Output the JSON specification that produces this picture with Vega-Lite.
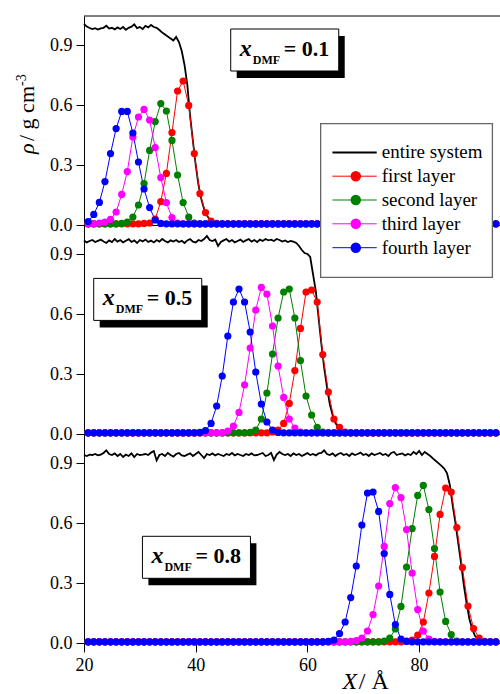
{
  "$schema": "https://vega.github.io/schema/vega-lite/v6.json",
  "background": "white",
  "padding": {"left": 14, "top": 15, "right": 0, "bottom": 0},
  "spacing": 0,
  "bounds": "flush",
  "config": {
    "font": "'Liberation Serif', 'Times New Roman', Times, 'DejaVu Serif', serif",
    "view": {"stroke": null},
    "axis": {"grid": false, "domainColor": "#000", "domainWidth": 1, "tickColor": "#000", "tickWidth": 1, "labelColor": "#000", "labelFont": "'Liberation Serif', 'Times New Roman', Times, 'DejaVu Serif', serif", "labelFontSize": 18}
  },
  "datasets": {
    "total01": [
      {"x":20,"y":1.005},{"x":20.5,"y":0.992},{"x":21,"y":0.985},{"x":21.5,"y":0.98},{"x":22,"y":0.984},{"x":22.5,"y":0.977},{"x":23,"y":0.983},{"x":23.5,"y":0.986},{"x":24,"y":0.996},{"x":24.5,"y":0.982},{"x":25,"y":0.986},{"x":25.5,"y":0.978},{"x":26,"y":0.988},{"x":26.5,"y":0.98},{"x":27,"y":0.99},{"x":27.5,"y":0.976},{"x":28,"y":0.986},{"x":28.5,"y":0.992},{"x":29,"y":1.003},{"x":29.5,"y":0.984},{"x":30,"y":0.99},{"x":30.5,"y":0.98},{"x":31,"y":0.996},{"x":31.5,"y":0.988},{"x":32,"y":1.0},{"x":32.5,"y":0.99},{"x":33,"y":0.986},{"x":33.5,"y":0.975},{"x":34,"y":0.962},{"x":34.5,"y":0.952},{"x":35,"y":0.942},{"x":35.5,"y":0.932},{"x":36,"y":0.922},{"x":36.5,"y":0.94},{"x":37,"y":0.915},{"x":37.5,"y":0.87},{"x":38,"y":0.8},{"x":38.5,"y":0.7},{"x":39,"y":0.545},{"x":39.5,"y":0.42},{"x":40,"y":0.3},{"x":40.5,"y":0.2},{"x":41,"y":0.13},{"x":41.5,"y":0.08},{"x":42,"y":0.048},{"x":42.5,"y":0.028},{"x":43,"y":0.016},{"x":43.5,"y":0.01},{"x":44,"y":0.007},{"x":45,"y":0.006},{"x":93.75,"y":0.006}
    ],
    "total05": [
      {"x":20,"y":0.968},{"x":20.5,"y":0.958},{"x":21,"y":0.965},{"x":21.5,"y":0.97},{"x":22,"y":0.96},{"x":22.5,"y":0.966},{"x":23,"y":0.972},{"x":23.5,"y":0.962},{"x":24,"y":0.955},{"x":24.5,"y":0.968},{"x":25,"y":0.96},{"x":25.5,"y":0.975},{"x":26,"y":0.962},{"x":26.5,"y":0.97},{"x":27,"y":0.958},{"x":27.5,"y":0.966},{"x":28,"y":0.974},{"x":28.5,"y":0.96},{"x":29,"y":0.968},{"x":29.5,"y":0.955},{"x":30,"y":0.97},{"x":30.5,"y":0.963},{"x":31,"y":0.972},{"x":31.5,"y":0.96},{"x":32,"y":0.967},{"x":32.5,"y":0.958},{"x":33,"y":0.97},{"x":33.5,"y":0.962},{"x":34,"y":0.975},{"x":34.5,"y":0.965},{"x":35,"y":0.958},{"x":35.5,"y":0.968},{"x":36,"y":0.962},{"x":36.5,"y":0.97},{"x":37,"y":0.96},{"x":37.5,"y":0.966},{"x":38,"y":0.955},{"x":38.5,"y":0.968},{"x":39,"y":0.975},{"x":39.5,"y":0.962},{"x":40,"y":0.958},{"x":40.5,"y":0.97},{"x":41,"y":0.965},{"x":41.5,"y":0.975},{"x":42,"y":0.99},{"x":42.5,"y":0.97},{"x":43,"y":0.965},{"x":43.5,"y":0.972},{"x":44,"y":0.94},{"x":44.5,"y":0.96},{"x":45,"y":0.968},{"x":45.5,"y":0.975},{"x":46,"y":0.962},{"x":46.5,"y":0.97},{"x":47,"y":0.958},{"x":47.5,"y":0.965},{"x":48,"y":0.972},{"x":48.5,"y":0.96},{"x":49,"y":0.968},{"x":49.5,"y":0.975},{"x":50,"y":0.962},{"x":50.5,"y":0.97},{"x":51,"y":0.96},{"x":51.5,"y":0.972},{"x":52,"y":0.965},{"x":52.5,"y":0.975},{"x":53,"y":0.968},{"x":53.5,"y":0.972},{"x":54,"y":0.965},{"x":54.5,"y":0.975},{"x":55,"y":0.97},{"x":55.5,"y":0.962},{"x":56,"y":0.968},{"x":56.5,"y":0.96},{"x":57,"y":0.965},{"x":57.5,"y":0.962},{"x":58,"y":0.955},{"x":58.5,"y":0.94},{"x":59,"y":0.92},{"x":59.5,"y":0.905},{"x":60,"y":0.9},{"x":60.5,"y":0.885},{"x":61,"y":0.8},{"x":61.5,"y":0.715},{"x":62,"y":0.58},{"x":62.5,"y":0.45},{"x":63,"y":0.33},{"x":63.5,"y":0.235},{"x":64,"y":0.15},{"x":64.5,"y":0.095},{"x":65,"y":0.056},{"x":65.5,"y":0.034},{"x":66,"y":0.02},{"x":66.5,"y":0.012},{"x":67,"y":0.008},{"x":68,"y":0.006},{"x":93.75,"y":0.006}
    ],
    "total08": [
      {"x":20,"y":0.94},{"x":20.5,"y":0.935},{"x":21,"y":0.942},{"x":21.5,"y":0.94},{"x":22,"y":0.945},{"x":22.5,"y":0.938},{"x":23,"y":0.942},{"x":23.5,"y":0.95},{"x":24,"y":0.963},{"x":24.5,"y":0.945},{"x":25,"y":0.94},{"x":25.5,"y":0.948},{"x":26,"y":0.935},{"x":26.5,"y":0.945},{"x":27,"y":0.93},{"x":27.5,"y":0.942},{"x":28,"y":0.935},{"x":28.5,"y":0.948},{"x":29,"y":0.93},{"x":29.5,"y":0.945},{"x":30,"y":0.94},{"x":30.5,"y":0.942},{"x":31,"y":0.945},{"x":31.5,"y":0.94},{"x":32,"y":0.952},{"x":32.5,"y":0.96},{"x":33,"y":0.913},{"x":33.5,"y":0.94},{"x":34,"y":0.945},{"x":34.5,"y":0.935},{"x":35,"y":0.95},{"x":35.5,"y":0.94},{"x":36,"y":0.932},{"x":36.5,"y":0.945},{"x":37,"y":0.95},{"x":37.5,"y":0.938},{"x":38,"y":0.935},{"x":38.5,"y":0.942},{"x":39,"y":0.948},{"x":39.5,"y":0.935},{"x":40,"y":0.945},{"x":40.5,"y":0.955},{"x":41,"y":0.94},{"x":41.5,"y":0.925},{"x":42,"y":0.945},{"x":42.5,"y":0.94},{"x":43,"y":0.948},{"x":43.5,"y":0.938},{"x":44,"y":0.945},{"x":44.5,"y":0.94},{"x":45,"y":0.935},{"x":45.5,"y":0.945},{"x":46,"y":0.94},{"x":46.5,"y":0.95},{"x":47,"y":0.938},{"x":47.5,"y":0.945},{"x":48,"y":0.94},{"x":48.5,"y":0.935},{"x":49,"y":0.945},{"x":49.5,"y":0.94},{"x":50,"y":0.948},{"x":50.5,"y":0.938},{"x":51,"y":0.94},{"x":51.5,"y":0.945},{"x":52,"y":0.95},{"x":52.5,"y":0.935},{"x":53,"y":0.94},{"x":53.5,"y":0.95},{"x":54,"y":0.915},{"x":54.5,"y":0.942},{"x":55,"y":0.955},{"x":55.5,"y":0.945},{"x":56,"y":0.94},{"x":56.5,"y":0.945},{"x":57,"y":0.935},{"x":57.5,"y":0.948},{"x":58,"y":0.94},{"x":58.5,"y":0.945},{"x":59,"y":0.935},{"x":59.5,"y":0.942},{"x":60,"y":0.95},{"x":60.5,"y":0.94},{"x":61,"y":0.945},{"x":61.5,"y":0.938},{"x":62,"y":0.948},{"x":62.5,"y":0.95},{"x":63,"y":0.963},{"x":63.5,"y":0.945},{"x":64,"y":0.94},{"x":64.5,"y":0.948},{"x":65,"y":0.935},{"x":65.5,"y":0.945},{"x":66,"y":0.95},{"x":66.5,"y":0.94},{"x":67,"y":0.945},{"x":67.5,"y":0.935},{"x":68,"y":0.948},{"x":68.5,"y":0.94},{"x":69,"y":0.945},{"x":69.5,"y":0.952},{"x":70,"y":0.94},{"x":70.5,"y":0.945},{"x":71,"y":0.935},{"x":71.5,"y":0.948},{"x":72,"y":0.94},{"x":72.5,"y":0.945},{"x":73,"y":0.95},{"x":73.5,"y":0.94},{"x":74,"y":0.945},{"x":74.5,"y":0.935},{"x":75,"y":0.95},{"x":75.5,"y":0.955},{"x":76,"y":0.94},{"x":76.5,"y":0.945},{"x":77,"y":0.948},{"x":77.5,"y":0.938},{"x":78,"y":0.945},{"x":78.5,"y":0.94},{"x":79,"y":0.955},{"x":79.5,"y":0.945},{"x":80,"y":0.96},{"x":80.5,"y":0.94},{"x":81,"y":0.955},{"x":81.5,"y":0.945},{"x":82,"y":0.935},{"x":82.5,"y":0.922},{"x":83,"y":0.91},{"x":83.5,"y":0.898},{"x":84,"y":0.886},{"x":84.5,"y":0.872},{"x":85,"y":0.848},{"x":85.5,"y":0.79},{"x":86,"y":0.69},{"x":86.5,"y":0.6},{"x":87,"y":0.5},{"x":87.5,"y":0.4},{"x":88,"y":0.29},{"x":88.5,"y":0.2},{"x":89,"y":0.12},{"x":89.5,"y":0.07},{"x":90,"y":0.036},{"x":90.5,"y":0.018},{"x":91,"y":0.01},{"x":92,"y":0.006},{"x":93.75,"y":0.006}
    ],
    "layers01": [
      {"s":1,"x":20.75,"y":0.006},{"s":1,"x":21.75,"y":0.006},{"s":1,"x":22.75,"y":0.006},{"s":1,"x":23.75,"y":0.006},{"s":1,"x":24.75,"y":0.006},{"s":1,"x":25.75,"y":0.006},{"s":1,"x":26.75,"y":0.006},{"s":1,"x":27.75,"y":0.006},{"s":1,"x":28.75,"y":0.006},{"s":1,"x":29.75,"y":0.006},{"s":1,"x":30.75,"y":0.008},{"s":1,"x":31.75,"y":0.01},{"s":1,"x":32.75,"y":0.03},{"s":1,"x":33.75,"y":0.117},{"s":1,"x":34.75,"y":0.258},{"s":1,"x":35.75,"y":0.462},{"s":1,"x":36.75,"y":0.67},{"s":1,"x":37.75,"y":0.72},{"s":1,"x":38.75,"y":0.598},{"s":1,"x":39.75,"y":0.357},{"s":1,"x":40.75,"y":0.157},{"s":1,"x":41.75,"y":0.062},{"s":1,"x":42.75,"y":0.02},{"s":1,"x":43.75,"y":0.008},{"s":1,"x":44.75,"y":0.006},{"s":1,"x":45.75,"y":0.006},{"s":1,"x":46.75,"y":0.006},{"s":1,"x":47.75,"y":0.006},{"s":1,"x":48.75,"y":0.006},{"s":1,"x":49.75,"y":0.006},{"s":1,"x":50.75,"y":0.006},{"s":1,"x":51.75,"y":0.006},{"s":1,"x":52.75,"y":0.006},{"s":1,"x":53.75,"y":0.006},{"s":1,"x":54.75,"y":0.006},{"s":1,"x":55.75,"y":0.006},{"s":1,"x":56.75,"y":0.006},{"s":1,"x":57.75,"y":0.006},{"s":1,"x":58.75,"y":0.006},{"s":1,"x":59.75,"y":0.006},{"s":1,"x":60.75,"y":0.006},{"s":1,"x":61.75,"y":0.006},{"s":1,"x":62.75,"y":0.006},{"s":1,"x":63.75,"y":0.006},{"s":1,"x":64.75,"y":0.006},{"s":1,"x":65.75,"y":0.006},{"s":1,"x":66.75,"y":0.006},{"s":1,"x":67.75,"y":0.006},{"s":1,"x":68.75,"y":0.006},{"s":1,"x":69.75,"y":0.006},{"s":1,"x":70.75,"y":0.006},{"s":1,"x":71.75,"y":0.006},{"s":1,"x":72.75,"y":0.006},{"s":1,"x":73.75,"y":0.006},{"s":1,"x":74.75,"y":0.006},{"s":1,"x":75.75,"y":0.006},{"s":1,"x":76.75,"y":0.006},{"s":1,"x":77.75,"y":0.006},{"s":1,"x":78.75,"y":0.006},{"s":1,"x":79.75,"y":0.006},{"s":1,"x":80.75,"y":0.006},{"s":1,"x":81.75,"y":0.006},{"s":1,"x":82.75,"y":0.006},{"s":1,"x":83.75,"y":0.006},{"s":1,"x":84.75,"y":0.006},{"s":1,"x":85.75,"y":0.006},{"s":1,"x":86.75,"y":0.006},{"s":1,"x":87.75,"y":0.006},{"s":1,"x":88.75,"y":0.006},{"s":1,"x":89.75,"y":0.006},{"s":1,"x":90.75,"y":0.006},{"s":1,"x":91.75,"y":0.006},{"s":1,"x":92.75,"y":0.006},{"s":1,"x":93.75,"y":0.006},
      {"s":2,"x":20.75,"y":0.006},{"s":2,"x":21.75,"y":0.006},{"s":2,"x":22.75,"y":0.006},{"s":2,"x":23.75,"y":0.006},{"s":2,"x":24.75,"y":0.006},{"s":2,"x":25.75,"y":0.006},{"s":2,"x":26.75,"y":0.008},{"s":2,"x":27.75,"y":0.015},{"s":2,"x":28.75,"y":0.04},{"s":2,"x":29.75,"y":0.1},{"s":2,"x":30.75,"y":0.207},{"s":2,"x":31.75,"y":0.373},{"s":2,"x":32.75,"y":0.517},{"s":2,"x":33.75,"y":0.607},{"s":2,"x":34.75,"y":0.57},{"s":2,"x":35.75,"y":0.423},{"s":2,"x":36.75,"y":0.25},{"s":2,"x":37.75,"y":0.112},{"s":2,"x":38.75,"y":0.04},{"s":2,"x":39.75,"y":0.01},{"s":2,"x":40.75,"y":0.006},{"s":2,"x":41.75,"y":0.006},{"s":2,"x":42.75,"y":0.006},{"s":2,"x":43.75,"y":0.006},{"s":2,"x":44.75,"y":0.006},{"s":2,"x":45.75,"y":0.006},{"s":2,"x":46.75,"y":0.006},{"s":2,"x":47.75,"y":0.006},{"s":2,"x":48.75,"y":0.006},{"s":2,"x":49.75,"y":0.006},{"s":2,"x":50.75,"y":0.006},{"s":2,"x":51.75,"y":0.006},{"s":2,"x":52.75,"y":0.006},{"s":2,"x":53.75,"y":0.006},{"s":2,"x":54.75,"y":0.006},{"s":2,"x":55.75,"y":0.006},{"s":2,"x":56.75,"y":0.006},{"s":2,"x":57.75,"y":0.006},{"s":2,"x":58.75,"y":0.006},{"s":2,"x":59.75,"y":0.006},{"s":2,"x":60.75,"y":0.006},{"s":2,"x":61.75,"y":0.006},{"s":2,"x":62.75,"y":0.006},{"s":2,"x":63.75,"y":0.006},{"s":2,"x":64.75,"y":0.006},{"s":2,"x":65.75,"y":0.006},{"s":2,"x":66.75,"y":0.006},{"s":2,"x":67.75,"y":0.006},{"s":2,"x":68.75,"y":0.006},{"s":2,"x":69.75,"y":0.006},{"s":2,"x":70.75,"y":0.006},{"s":2,"x":71.75,"y":0.006},{"s":2,"x":72.75,"y":0.006},{"s":2,"x":73.75,"y":0.006},{"s":2,"x":74.75,"y":0.006},{"s":2,"x":75.75,"y":0.006},{"s":2,"x":76.75,"y":0.006},{"s":2,"x":77.75,"y":0.006},{"s":2,"x":78.75,"y":0.006},{"s":2,"x":79.75,"y":0.006},{"s":2,"x":80.75,"y":0.006},{"s":2,"x":81.75,"y":0.006},{"s":2,"x":82.75,"y":0.006},{"s":2,"x":83.75,"y":0.006},{"s":2,"x":84.75,"y":0.006},{"s":2,"x":85.75,"y":0.006},{"s":2,"x":86.75,"y":0.006},{"s":2,"x":87.75,"y":0.006},{"s":2,"x":88.75,"y":0.006},{"s":2,"x":89.75,"y":0.006},{"s":2,"x":90.75,"y":0.006},{"s":2,"x":91.75,"y":0.006},{"s":2,"x":92.75,"y":0.006},{"s":2,"x":93.75,"y":0.006},
      {"s":3,"x":20.75,"y":0.006},{"s":3,"x":21.75,"y":0.006},{"s":3,"x":22.75,"y":0.01},{"s":3,"x":23.75,"y":0.015},{"s":3,"x":24.75,"y":0.028},{"s":3,"x":25.75,"y":0.065},{"s":3,"x":26.75,"y":0.153},{"s":3,"x":27.75,"y":0.267},{"s":3,"x":28.75,"y":0.44},{"s":3,"x":29.75,"y":0.54},{"s":3,"x":30.75,"y":0.578},{"s":3,"x":31.75,"y":0.525},{"s":3,"x":32.75,"y":0.387},{"s":3,"x":33.75,"y":0.237},{"s":3,"x":34.75,"y":0.112},{"s":3,"x":35.75,"y":0.037},{"s":3,"x":36.75,"y":0.01},{"s":3,"x":37.75,"y":0.006},{"s":3,"x":38.75,"y":0.006},{"s":3,"x":39.75,"y":0.006},{"s":3,"x":40.75,"y":0.006},{"s":3,"x":41.75,"y":0.006},{"s":3,"x":42.75,"y":0.006},{"s":3,"x":43.75,"y":0.006},{"s":3,"x":44.75,"y":0.006},{"s":3,"x":45.75,"y":0.006},{"s":3,"x":46.75,"y":0.006},{"s":3,"x":47.75,"y":0.006},{"s":3,"x":48.75,"y":0.006},{"s":3,"x":49.75,"y":0.006},{"s":3,"x":50.75,"y":0.006},{"s":3,"x":51.75,"y":0.006},{"s":3,"x":52.75,"y":0.006},{"s":3,"x":53.75,"y":0.006},{"s":3,"x":54.75,"y":0.006},{"s":3,"x":55.75,"y":0.006},{"s":3,"x":56.75,"y":0.006},{"s":3,"x":57.75,"y":0.006},{"s":3,"x":58.75,"y":0.006},{"s":3,"x":59.75,"y":0.006},{"s":3,"x":60.75,"y":0.006},{"s":3,"x":61.75,"y":0.006},{"s":3,"x":62.75,"y":0.006},{"s":3,"x":63.75,"y":0.006},{"s":3,"x":64.75,"y":0.006},{"s":3,"x":65.75,"y":0.006},{"s":3,"x":66.75,"y":0.006},{"s":3,"x":67.75,"y":0.006},{"s":3,"x":68.75,"y":0.006},{"s":3,"x":69.75,"y":0.006},{"s":3,"x":70.75,"y":0.006},{"s":3,"x":71.75,"y":0.006},{"s":3,"x":72.75,"y":0.006},{"s":3,"x":73.75,"y":0.006},{"s":3,"x":74.75,"y":0.006},{"s":3,"x":75.75,"y":0.006},{"s":3,"x":76.75,"y":0.006},{"s":3,"x":77.75,"y":0.006},{"s":3,"x":78.75,"y":0.006},{"s":3,"x":79.75,"y":0.006},{"s":3,"x":80.75,"y":0.006},{"s":3,"x":81.75,"y":0.006},{"s":3,"x":82.75,"y":0.006},{"s":3,"x":83.75,"y":0.006},{"s":3,"x":84.75,"y":0.006},{"s":3,"x":85.75,"y":0.006},{"s":3,"x":86.75,"y":0.006},{"s":3,"x":87.75,"y":0.006},{"s":3,"x":88.75,"y":0.006},{"s":3,"x":89.75,"y":0.006},{"s":3,"x":90.75,"y":0.006},{"s":3,"x":91.75,"y":0.006},{"s":3,"x":92.75,"y":0.006},{"s":3,"x":93.75,"y":0.006},
      {"s":4,"x":20.75,"y":0.017},{"s":4,"x":21.75,"y":0.053},{"s":4,"x":22.75,"y":0.113},{"s":4,"x":23.75,"y":0.217},{"s":4,"x":24.75,"y":0.357},{"s":4,"x":25.75,"y":0.482},{"s":4,"x":26.75,"y":0.568},{"s":4,"x":27.75,"y":0.568},{"s":4,"x":28.75,"y":0.46},{"s":4,"x":29.75,"y":0.315},{"s":4,"x":30.75,"y":0.18},{"s":4,"x":31.75,"y":0.087},{"s":4,"x":32.75,"y":0.025},{"s":4,"x":33.75,"y":0.008},{"s":4,"x":34.75,"y":0.006},{"s":4,"x":35.75,"y":0.006},{"s":4,"x":36.75,"y":0.006},{"s":4,"x":37.75,"y":0.006},{"s":4,"x":38.75,"y":0.006},{"s":4,"x":39.75,"y":0.006},{"s":4,"x":40.75,"y":0.006},{"s":4,"x":41.75,"y":0.006},{"s":4,"x":42.75,"y":0.006},{"s":4,"x":43.75,"y":0.006},{"s":4,"x":44.75,"y":0.006},{"s":4,"x":45.75,"y":0.006},{"s":4,"x":46.75,"y":0.006},{"s":4,"x":47.75,"y":0.006},{"s":4,"x":48.75,"y":0.006},{"s":4,"x":49.75,"y":0.006},{"s":4,"x":50.75,"y":0.006},{"s":4,"x":51.75,"y":0.006},{"s":4,"x":52.75,"y":0.006},{"s":4,"x":53.75,"y":0.006},{"s":4,"x":54.75,"y":0.006},{"s":4,"x":55.75,"y":0.006},{"s":4,"x":56.75,"y":0.006},{"s":4,"x":57.75,"y":0.006},{"s":4,"x":58.75,"y":0.006},{"s":4,"x":59.75,"y":0.006},{"s":4,"x":60.75,"y":0.006},{"s":4,"x":61.75,"y":0.006},{"s":4,"x":62.75,"y":0.006},{"s":4,"x":63.75,"y":0.006},{"s":4,"x":64.75,"y":0.006},{"s":4,"x":65.75,"y":0.006},{"s":4,"x":66.75,"y":0.006},{"s":4,"x":67.75,"y":0.006},{"s":4,"x":68.75,"y":0.006},{"s":4,"x":69.75,"y":0.006},{"s":4,"x":70.75,"y":0.006},{"s":4,"x":71.75,"y":0.006},{"s":4,"x":72.75,"y":0.006},{"s":4,"x":73.75,"y":0.006},{"s":4,"x":74.75,"y":0.006},{"s":4,"x":75.75,"y":0.006},{"s":4,"x":76.75,"y":0.006},{"s":4,"x":77.75,"y":0.006},{"s":4,"x":78.75,"y":0.006},{"s":4,"x":79.75,"y":0.006},{"s":4,"x":80.75,"y":0.006},{"s":4,"x":81.75,"y":0.006},{"s":4,"x":82.75,"y":0.006},{"s":4,"x":83.75,"y":0.006},{"s":4,"x":84.75,"y":0.006},{"s":4,"x":85.75,"y":0.006},{"s":4,"x":86.75,"y":0.006},{"s":4,"x":87.75,"y":0.006},{"s":4,"x":88.75,"y":0.006},{"s":4,"x":89.75,"y":0.006},{"s":4,"x":90.75,"y":0.006},{"s":4,"x":91.75,"y":0.006},{"s":4,"x":92.75,"y":0.006},{"s":4,"x":93.75,"y":0.006}
    ],
    "layers05": [
      {"s":1,"x":20.75,"y":0.006},{"s":1,"x":21.75,"y":0.006},{"s":1,"x":22.75,"y":0.006},{"s":1,"x":23.75,"y":0.006},{"s":1,"x":24.75,"y":0.006},{"s":1,"x":25.75,"y":0.006},{"s":1,"x":26.75,"y":0.006},{"s":1,"x":27.75,"y":0.006},{"s":1,"x":28.75,"y":0.006},{"s":1,"x":29.75,"y":0.006},{"s":1,"x":30.75,"y":0.006},{"s":1,"x":31.75,"y":0.006},{"s":1,"x":32.75,"y":0.006},{"s":1,"x":33.75,"y":0.006},{"s":1,"x":34.75,"y":0.006},{"s":1,"x":35.75,"y":0.006},{"s":1,"x":36.75,"y":0.006},{"s":1,"x":37.75,"y":0.006},{"s":1,"x":38.75,"y":0.006},{"s":1,"x":39.75,"y":0.006},{"s":1,"x":40.75,"y":0.006},{"s":1,"x":41.75,"y":0.006},{"s":1,"x":42.75,"y":0.006},{"s":1,"x":43.75,"y":0.006},{"s":1,"x":44.75,"y":0.006},{"s":1,"x":45.75,"y":0.006},{"s":1,"x":46.75,"y":0.006},{"s":1,"x":47.75,"y":0.006},{"s":1,"x":48.75,"y":0.006},{"s":1,"x":49.75,"y":0.006},{"s":1,"x":50.75,"y":0.006},{"s":1,"x":51.75,"y":0.006},{"s":1,"x":52.75,"y":0.006},{"s":1,"x":53.75,"y":0.01},{"s":1,"x":54.75,"y":0.02},{"s":1,"x":55.75,"y":0.053},{"s":1,"x":56.75,"y":0.153},{"s":1,"x":57.75,"y":0.317},{"s":1,"x":58.75,"y":0.528},{"s":1,"x":59.75,"y":0.71},{"s":1,"x":60.75,"y":0.72},{"s":1,"x":61.75,"y":0.66},{"s":1,"x":62.75,"y":0.397},{"s":1,"x":63.75,"y":0.21},{"s":1,"x":64.75,"y":0.075},{"s":1,"x":65.75,"y":0.033},{"s":1,"x":66.75,"y":0.01},{"s":1,"x":67.75,"y":0.006},{"s":1,"x":68.75,"y":0.006},{"s":1,"x":69.75,"y":0.006},{"s":1,"x":70.75,"y":0.006},{"s":1,"x":71.75,"y":0.006},{"s":1,"x":72.75,"y":0.006},{"s":1,"x":73.75,"y":0.006},{"s":1,"x":74.75,"y":0.006},{"s":1,"x":75.75,"y":0.006},{"s":1,"x":76.75,"y":0.006},{"s":1,"x":77.75,"y":0.006},{"s":1,"x":78.75,"y":0.006},{"s":1,"x":79.75,"y":0.006},{"s":1,"x":80.75,"y":0.006},{"s":1,"x":81.75,"y":0.006},{"s":1,"x":82.75,"y":0.006},{"s":1,"x":83.75,"y":0.006},{"s":1,"x":84.75,"y":0.006},{"s":1,"x":85.75,"y":0.006},{"s":1,"x":86.75,"y":0.006},{"s":1,"x":87.75,"y":0.006},{"s":1,"x":88.75,"y":0.006},{"s":1,"x":89.75,"y":0.006},{"s":1,"x":90.75,"y":0.006},{"s":1,"x":91.75,"y":0.006},{"s":1,"x":92.75,"y":0.006},{"s":1,"x":93.75,"y":0.006},
      {"s":2,"x":20.75,"y":0.006},{"s":2,"x":21.75,"y":0.006},{"s":2,"x":22.75,"y":0.006},{"s":2,"x":23.75,"y":0.006},{"s":2,"x":24.75,"y":0.006},{"s":2,"x":25.75,"y":0.006},{"s":2,"x":26.75,"y":0.006},{"s":2,"x":27.75,"y":0.006},{"s":2,"x":28.75,"y":0.006},{"s":2,"x":29.75,"y":0.006},{"s":2,"x":30.75,"y":0.006},{"s":2,"x":31.75,"y":0.006},{"s":2,"x":32.75,"y":0.006},{"s":2,"x":33.75,"y":0.006},{"s":2,"x":34.75,"y":0.006},{"s":2,"x":35.75,"y":0.006},{"s":2,"x":36.75,"y":0.006},{"s":2,"x":37.75,"y":0.006},{"s":2,"x":38.75,"y":0.006},{"s":2,"x":39.75,"y":0.006},{"s":2,"x":40.75,"y":0.006},{"s":2,"x":41.75,"y":0.006},{"s":2,"x":42.75,"y":0.006},{"s":2,"x":43.75,"y":0.006},{"s":2,"x":44.75,"y":0.006},{"s":2,"x":45.75,"y":0.006},{"s":2,"x":46.75,"y":0.006},{"s":2,"x":47.75,"y":0.006},{"s":2,"x":48.75,"y":0.006},{"s":2,"x":49.75,"y":0.008},{"s":2,"x":50.75,"y":0.02},{"s":2,"x":51.75,"y":0.075},{"s":2,"x":52.75,"y":0.205},{"s":2,"x":53.75,"y":0.4},{"s":2,"x":54.75,"y":0.58},{"s":2,"x":55.75,"y":0.71},{"s":2,"x":56.75,"y":0.725},{"s":2,"x":57.75,"y":0.58},{"s":2,"x":58.75,"y":0.367},{"s":2,"x":59.75,"y":0.19},{"s":2,"x":60.75,"y":0.095},{"s":2,"x":61.75,"y":0.033},{"s":2,"x":62.75,"y":0.01},{"s":2,"x":63.75,"y":0.006},{"s":2,"x":64.75,"y":0.006},{"s":2,"x":65.75,"y":0.006},{"s":2,"x":66.75,"y":0.006},{"s":2,"x":67.75,"y":0.006},{"s":2,"x":68.75,"y":0.006},{"s":2,"x":69.75,"y":0.006},{"s":2,"x":70.75,"y":0.006},{"s":2,"x":71.75,"y":0.006},{"s":2,"x":72.75,"y":0.006},{"s":2,"x":73.75,"y":0.006},{"s":2,"x":74.75,"y":0.006},{"s":2,"x":75.75,"y":0.006},{"s":2,"x":76.75,"y":0.006},{"s":2,"x":77.75,"y":0.006},{"s":2,"x":78.75,"y":0.006},{"s":2,"x":79.75,"y":0.006},{"s":2,"x":80.75,"y":0.006},{"s":2,"x":81.75,"y":0.006},{"s":2,"x":82.75,"y":0.006},{"s":2,"x":83.75,"y":0.006},{"s":2,"x":84.75,"y":0.006},{"s":2,"x":85.75,"y":0.006},{"s":2,"x":86.75,"y":0.006},{"s":2,"x":87.75,"y":0.006},{"s":2,"x":88.75,"y":0.006},{"s":2,"x":89.75,"y":0.006},{"s":2,"x":90.75,"y":0.006},{"s":2,"x":91.75,"y":0.006},{"s":2,"x":92.75,"y":0.006},{"s":2,"x":93.75,"y":0.006},
      {"s":3,"x":20.75,"y":0.006},{"s":3,"x":21.75,"y":0.006},{"s":3,"x":22.75,"y":0.006},{"s":3,"x":23.75,"y":0.006},{"s":3,"x":24.75,"y":0.006},{"s":3,"x":25.75,"y":0.006},{"s":3,"x":26.75,"y":0.006},{"s":3,"x":27.75,"y":0.006},{"s":3,"x":28.75,"y":0.006},{"s":3,"x":29.75,"y":0.006},{"s":3,"x":30.75,"y":0.006},{"s":3,"x":31.75,"y":0.006},{"s":3,"x":32.75,"y":0.006},{"s":3,"x":33.75,"y":0.006},{"s":3,"x":34.75,"y":0.006},{"s":3,"x":35.75,"y":0.006},{"s":3,"x":36.75,"y":0.006},{"s":3,"x":37.75,"y":0.006},{"s":3,"x":38.75,"y":0.006},{"s":3,"x":39.75,"y":0.006},{"s":3,"x":40.75,"y":0.006},{"s":3,"x":41.75,"y":0.006},{"s":3,"x":42.75,"y":0.006},{"s":3,"x":43.75,"y":0.006},{"s":3,"x":44.75,"y":0.006},{"s":3,"x":45.75,"y":0.015},{"s":3,"x":46.75,"y":0.04},{"s":3,"x":47.75,"y":0.108},{"s":3,"x":48.75,"y":0.246},{"s":3,"x":49.75,"y":0.43},{"s":3,"x":50.75,"y":0.62},{"s":3,"x":51.75,"y":0.733},{"s":3,"x":52.75,"y":0.7},{"s":3,"x":53.75,"y":0.54},{"s":3,"x":54.75,"y":0.34},{"s":3,"x":55.75,"y":0.183},{"s":3,"x":56.75,"y":0.075},{"s":3,"x":57.75,"y":0.03},{"s":3,"x":58.75,"y":0.01},{"s":3,"x":59.75,"y":0.006},{"s":3,"x":60.75,"y":0.006},{"s":3,"x":61.75,"y":0.006},{"s":3,"x":62.75,"y":0.006},{"s":3,"x":63.75,"y":0.006},{"s":3,"x":64.75,"y":0.006},{"s":3,"x":65.75,"y":0.006},{"s":3,"x":66.75,"y":0.006},{"s":3,"x":67.75,"y":0.006},{"s":3,"x":68.75,"y":0.006},{"s":3,"x":69.75,"y":0.006},{"s":3,"x":70.75,"y":0.006},{"s":3,"x":71.75,"y":0.006},{"s":3,"x":72.75,"y":0.006},{"s":3,"x":73.75,"y":0.006},{"s":3,"x":74.75,"y":0.006},{"s":3,"x":75.75,"y":0.006},{"s":3,"x":76.75,"y":0.006},{"s":3,"x":77.75,"y":0.006},{"s":3,"x":78.75,"y":0.006},{"s":3,"x":79.75,"y":0.006},{"s":3,"x":80.75,"y":0.006},{"s":3,"x":81.75,"y":0.006},{"s":3,"x":82.75,"y":0.006},{"s":3,"x":83.75,"y":0.006},{"s":3,"x":84.75,"y":0.006},{"s":3,"x":85.75,"y":0.006},{"s":3,"x":86.75,"y":0.006},{"s":3,"x":87.75,"y":0.006},{"s":3,"x":88.75,"y":0.006},{"s":3,"x":89.75,"y":0.006},{"s":3,"x":90.75,"y":0.006},{"s":3,"x":91.75,"y":0.006},{"s":3,"x":92.75,"y":0.006},{"s":3,"x":93.75,"y":0.006},
      {"s":4,"x":20.75,"y":0.006},{"s":4,"x":21.75,"y":0.006},{"s":4,"x":22.75,"y":0.006},{"s":4,"x":23.75,"y":0.006},{"s":4,"x":24.75,"y":0.006},{"s":4,"x":25.75,"y":0.006},{"s":4,"x":26.75,"y":0.006},{"s":4,"x":27.75,"y":0.006},{"s":4,"x":28.75,"y":0.006},{"s":4,"x":29.75,"y":0.006},{"s":4,"x":30.75,"y":0.006},{"s":4,"x":31.75,"y":0.006},{"s":4,"x":32.75,"y":0.006},{"s":4,"x":33.75,"y":0.006},{"s":4,"x":34.75,"y":0.006},{"s":4,"x":35.75,"y":0.006},{"s":4,"x":36.75,"y":0.006},{"s":4,"x":37.75,"y":0.006},{"s":4,"x":38.75,"y":0.006},{"s":4,"x":39.75,"y":0.006},{"s":4,"x":40.75,"y":0.008},{"s":4,"x":41.75,"y":0.017},{"s":4,"x":42.75,"y":0.053},{"s":4,"x":43.75,"y":0.14},{"s":4,"x":44.75,"y":0.29},{"s":4,"x":45.75,"y":0.49},{"s":4,"x":46.75,"y":0.66},{"s":4,"x":47.75,"y":0.725},{"s":4,"x":48.75,"y":0.66},{"s":4,"x":49.75,"y":0.51},{"s":4,"x":50.75,"y":0.31},{"s":4,"x":51.75,"y":0.15},{"s":4,"x":52.75,"y":0.06},{"s":4,"x":53.75,"y":0.02},{"s":4,"x":54.75,"y":0.008},{"s":4,"x":55.75,"y":0.006},{"s":4,"x":56.75,"y":0.006},{"s":4,"x":57.75,"y":0.006},{"s":4,"x":58.75,"y":0.006},{"s":4,"x":59.75,"y":0.006},{"s":4,"x":60.75,"y":0.006},{"s":4,"x":61.75,"y":0.006},{"s":4,"x":62.75,"y":0.006},{"s":4,"x":63.75,"y":0.006},{"s":4,"x":64.75,"y":0.006},{"s":4,"x":65.75,"y":0.006},{"s":4,"x":66.75,"y":0.006},{"s":4,"x":67.75,"y":0.006},{"s":4,"x":68.75,"y":0.006},{"s":4,"x":69.75,"y":0.006},{"s":4,"x":70.75,"y":0.006},{"s":4,"x":71.75,"y":0.006},{"s":4,"x":72.75,"y":0.006},{"s":4,"x":73.75,"y":0.006},{"s":4,"x":74.75,"y":0.006},{"s":4,"x":75.75,"y":0.006},{"s":4,"x":76.75,"y":0.006},{"s":4,"x":77.75,"y":0.006},{"s":4,"x":78.75,"y":0.006},{"s":4,"x":79.75,"y":0.006},{"s":4,"x":80.75,"y":0.006},{"s":4,"x":81.75,"y":0.006},{"s":4,"x":82.75,"y":0.006},{"s":4,"x":83.75,"y":0.006},{"s":4,"x":84.75,"y":0.006},{"s":4,"x":85.75,"y":0.006},{"s":4,"x":86.75,"y":0.006},{"s":4,"x":87.75,"y":0.006},{"s":4,"x":88.75,"y":0.006},{"s":4,"x":89.75,"y":0.006},{"s":4,"x":90.75,"y":0.006},{"s":4,"x":91.75,"y":0.006},{"s":4,"x":92.75,"y":0.006},{"s":4,"x":93.75,"y":0.006}
    ],
    "layers08": [
      {"s":1,"x":20.75,"y":0.006},{"s":1,"x":21.75,"y":0.006},{"s":1,"x":22.75,"y":0.006},{"s":1,"x":23.75,"y":0.006},{"s":1,"x":24.75,"y":0.006},{"s":1,"x":25.75,"y":0.006},{"s":1,"x":26.75,"y":0.006},{"s":1,"x":27.75,"y":0.006},{"s":1,"x":28.75,"y":0.006},{"s":1,"x":29.75,"y":0.006},{"s":1,"x":30.75,"y":0.006},{"s":1,"x":31.75,"y":0.006},{"s":1,"x":32.75,"y":0.006},{"s":1,"x":33.75,"y":0.006},{"s":1,"x":34.75,"y":0.006},{"s":1,"x":35.75,"y":0.006},{"s":1,"x":36.75,"y":0.006},{"s":1,"x":37.75,"y":0.006},{"s":1,"x":38.75,"y":0.006},{"s":1,"x":39.75,"y":0.006},{"s":1,"x":40.75,"y":0.006},{"s":1,"x":41.75,"y":0.006},{"s":1,"x":42.75,"y":0.006},{"s":1,"x":43.75,"y":0.006},{"s":1,"x":44.75,"y":0.006},{"s":1,"x":45.75,"y":0.006},{"s":1,"x":46.75,"y":0.006},{"s":1,"x":47.75,"y":0.006},{"s":1,"x":48.75,"y":0.006},{"s":1,"x":49.75,"y":0.006},{"s":1,"x":50.75,"y":0.006},{"s":1,"x":51.75,"y":0.006},{"s":1,"x":52.75,"y":0.006},{"s":1,"x":53.75,"y":0.006},{"s":1,"x":54.75,"y":0.006},{"s":1,"x":55.75,"y":0.006},{"s":1,"x":56.75,"y":0.006},{"s":1,"x":57.75,"y":0.006},{"s":1,"x":58.75,"y":0.006},{"s":1,"x":59.75,"y":0.006},{"s":1,"x":60.75,"y":0.006},{"s":1,"x":61.75,"y":0.006},{"s":1,"x":62.75,"y":0.006},{"s":1,"x":63.75,"y":0.006},{"s":1,"x":64.75,"y":0.006},{"s":1,"x":65.75,"y":0.006},{"s":1,"x":66.75,"y":0.006},{"s":1,"x":67.75,"y":0.006},{"s":1,"x":68.75,"y":0.006},{"s":1,"x":69.75,"y":0.006},{"s":1,"x":70.75,"y":0.006},{"s":1,"x":71.75,"y":0.006},{"s":1,"x":72.75,"y":0.006},{"s":1,"x":73.75,"y":0.006},{"s":1,"x":74.75,"y":0.006},{"s":1,"x":75.75,"y":0.006},{"s":1,"x":76.75,"y":0.006},{"s":1,"x":77.75,"y":0.01},{"s":1,"x":78.75,"y":0.015},{"s":1,"x":79.75,"y":0.04},{"s":1,"x":80.75,"y":0.105},{"s":1,"x":81.75,"y":0.25},{"s":1,"x":82.75,"y":0.433},{"s":1,"x":83.75,"y":0.643},{"s":1,"x":84.75,"y":0.775},{"s":1,"x":85.75,"y":0.755},{"s":1,"x":86.75,"y":0.577},{"s":1,"x":87.75,"y":0.377},{"s":1,"x":88.75,"y":0.185},{"s":1,"x":89.75,"y":0.072},{"s":1,"x":90.75,"y":0.025},{"s":1,"x":91.75,"y":0.008},{"s":1,"x":92.75,"y":0.006},{"s":1,"x":93.75,"y":0.006},
      {"s":2,"x":20.75,"y":0.006},{"s":2,"x":21.75,"y":0.006},{"s":2,"x":22.75,"y":0.006},{"s":2,"x":23.75,"y":0.006},{"s":2,"x":24.75,"y":0.006},{"s":2,"x":25.75,"y":0.006},{"s":2,"x":26.75,"y":0.006},{"s":2,"x":27.75,"y":0.006},{"s":2,"x":28.75,"y":0.006},{"s":2,"x":29.75,"y":0.006},{"s":2,"x":30.75,"y":0.006},{"s":2,"x":31.75,"y":0.006},{"s":2,"x":32.75,"y":0.006},{"s":2,"x":33.75,"y":0.006},{"s":2,"x":34.75,"y":0.006},{"s":2,"x":35.75,"y":0.006},{"s":2,"x":36.75,"y":0.006},{"s":2,"x":37.75,"y":0.006},{"s":2,"x":38.75,"y":0.006},{"s":2,"x":39.75,"y":0.006},{"s":2,"x":40.75,"y":0.006},{"s":2,"x":41.75,"y":0.006},{"s":2,"x":42.75,"y":0.006},{"s":2,"x":43.75,"y":0.006},{"s":2,"x":44.75,"y":0.006},{"s":2,"x":45.75,"y":0.006},{"s":2,"x":46.75,"y":0.006},{"s":2,"x":47.75,"y":0.006},{"s":2,"x":48.75,"y":0.006},{"s":2,"x":49.75,"y":0.006},{"s":2,"x":50.75,"y":0.006},{"s":2,"x":51.75,"y":0.006},{"s":2,"x":52.75,"y":0.006},{"s":2,"x":53.75,"y":0.006},{"s":2,"x":54.75,"y":0.006},{"s":2,"x":55.75,"y":0.006},{"s":2,"x":56.75,"y":0.006},{"s":2,"x":57.75,"y":0.006},{"s":2,"x":58.75,"y":0.006},{"s":2,"x":59.75,"y":0.006},{"s":2,"x":60.75,"y":0.006},{"s":2,"x":61.75,"y":0.006},{"s":2,"x":62.75,"y":0.006},{"s":2,"x":63.75,"y":0.006},{"s":2,"x":64.75,"y":0.006},{"s":2,"x":65.75,"y":0.006},{"s":2,"x":66.75,"y":0.006},{"s":2,"x":67.75,"y":0.006},{"s":2,"x":68.75,"y":0.006},{"s":2,"x":69.75,"y":0.006},{"s":2,"x":70.75,"y":0.006},{"s":2,"x":71.75,"y":0.006},{"s":2,"x":72.75,"y":0.006},{"s":2,"x":73.75,"y":0.01},{"s":2,"x":74.75,"y":0.025},{"s":2,"x":75.75,"y":0.07},{"s":2,"x":76.75,"y":0.183},{"s":2,"x":77.75,"y":0.38},{"s":2,"x":78.75,"y":0.572},{"s":2,"x":79.75,"y":0.738},{"s":2,"x":80.75,"y":0.788},{"s":2,"x":81.75,"y":0.667},{"s":2,"x":82.75,"y":0.472},{"s":2,"x":83.75,"y":0.255},{"s":2,"x":84.75,"y":0.108},{"s":2,"x":85.75,"y":0.042},{"s":2,"x":86.75,"y":0.01},{"s":2,"x":87.75,"y":0.006},{"s":2,"x":88.75,"y":0.006},{"s":2,"x":89.75,"y":0.006},{"s":2,"x":90.75,"y":0.006},{"s":2,"x":91.75,"y":0.006},{"s":2,"x":92.75,"y":0.006},{"s":2,"x":93.75,"y":0.006},
      {"s":3,"x":20.75,"y":0.006},{"s":3,"x":21.75,"y":0.006},{"s":3,"x":22.75,"y":0.006},{"s":3,"x":23.75,"y":0.006},{"s":3,"x":24.75,"y":0.006},{"s":3,"x":25.75,"y":0.006},{"s":3,"x":26.75,"y":0.006},{"s":3,"x":27.75,"y":0.006},{"s":3,"x":28.75,"y":0.006},{"s":3,"x":29.75,"y":0.006},{"s":3,"x":30.75,"y":0.006},{"s":3,"x":31.75,"y":0.006},{"s":3,"x":32.75,"y":0.006},{"s":3,"x":33.75,"y":0.006},{"s":3,"x":34.75,"y":0.006},{"s":3,"x":35.75,"y":0.006},{"s":3,"x":36.75,"y":0.006},{"s":3,"x":37.75,"y":0.006},{"s":3,"x":38.75,"y":0.006},{"s":3,"x":39.75,"y":0.006},{"s":3,"x":40.75,"y":0.006},{"s":3,"x":41.75,"y":0.006},{"s":3,"x":42.75,"y":0.006},{"s":3,"x":43.75,"y":0.006},{"s":3,"x":44.75,"y":0.006},{"s":3,"x":45.75,"y":0.006},{"s":3,"x":46.75,"y":0.006},{"s":3,"x":47.75,"y":0.006},{"s":3,"x":48.75,"y":0.006},{"s":3,"x":49.75,"y":0.006},{"s":3,"x":50.75,"y":0.006},{"s":3,"x":51.75,"y":0.006},{"s":3,"x":52.75,"y":0.006},{"s":3,"x":53.75,"y":0.006},{"s":3,"x":54.75,"y":0.006},{"s":3,"x":55.75,"y":0.006},{"s":3,"x":56.75,"y":0.006},{"s":3,"x":57.75,"y":0.006},{"s":3,"x":58.75,"y":0.006},{"s":3,"x":59.75,"y":0.006},{"s":3,"x":60.75,"y":0.006},{"s":3,"x":61.75,"y":0.006},{"s":3,"x":62.75,"y":0.006},{"s":3,"x":63.75,"y":0.006},{"s":3,"x":64.75,"y":0.006},{"s":3,"x":65.75,"y":0.006},{"s":3,"x":66.75,"y":0.006},{"s":3,"x":67.75,"y":0.008},{"s":3,"x":68.75,"y":0.012},{"s":3,"x":69.75,"y":0.025},{"s":3,"x":70.75,"y":0.06},{"s":3,"x":71.75,"y":0.142},{"s":3,"x":72.75,"y":0.285},{"s":3,"x":73.75,"y":0.483},{"s":3,"x":74.75,"y":0.697},{"s":3,"x":75.75,"y":0.777},{"s":3,"x":76.75,"y":0.727},{"s":3,"x":77.75,"y":0.567},{"s":3,"x":78.75,"y":0.35},{"s":3,"x":79.75,"y":0.167},{"s":3,"x":80.75,"y":0.06},{"s":3,"x":81.75,"y":0.02},{"s":3,"x":82.75,"y":0.008},{"s":3,"x":83.75,"y":0.006},{"s":3,"x":84.75,"y":0.006},{"s":3,"x":85.75,"y":0.006},{"s":3,"x":86.75,"y":0.006},{"s":3,"x":87.75,"y":0.006},{"s":3,"x":88.75,"y":0.006},{"s":3,"x":89.75,"y":0.006},{"s":3,"x":90.75,"y":0.006},{"s":3,"x":91.75,"y":0.006},{"s":3,"x":92.75,"y":0.006},{"s":3,"x":93.75,"y":0.006},
      {"s":4,"x":20.75,"y":0.006},{"s":4,"x":21.75,"y":0.006},{"s":4,"x":22.75,"y":0.006},{"s":4,"x":23.75,"y":0.006},{"s":4,"x":24.75,"y":0.006},{"s":4,"x":25.75,"y":0.006},{"s":4,"x":26.75,"y":0.006},{"s":4,"x":27.75,"y":0.006},{"s":4,"x":28.75,"y":0.006},{"s":4,"x":29.75,"y":0.006},{"s":4,"x":30.75,"y":0.006},{"s":4,"x":31.75,"y":0.006},{"s":4,"x":32.75,"y":0.006},{"s":4,"x":33.75,"y":0.006},{"s":4,"x":34.75,"y":0.006},{"s":4,"x":35.75,"y":0.006},{"s":4,"x":36.75,"y":0.006},{"s":4,"x":37.75,"y":0.006},{"s":4,"x":38.75,"y":0.006},{"s":4,"x":39.75,"y":0.006},{"s":4,"x":40.75,"y":0.006},{"s":4,"x":41.75,"y":0.006},{"s":4,"x":42.75,"y":0.006},{"s":4,"x":43.75,"y":0.006},{"s":4,"x":44.75,"y":0.006},{"s":4,"x":45.75,"y":0.006},{"s":4,"x":46.75,"y":0.006},{"s":4,"x":47.75,"y":0.006},{"s":4,"x":48.75,"y":0.006},{"s":4,"x":49.75,"y":0.006},{"s":4,"x":50.75,"y":0.006},{"s":4,"x":51.75,"y":0.006},{"s":4,"x":52.75,"y":0.006},{"s":4,"x":53.75,"y":0.006},{"s":4,"x":54.75,"y":0.006},{"s":4,"x":55.75,"y":0.006},{"s":4,"x":56.75,"y":0.006},{"s":4,"x":57.75,"y":0.006},{"s":4,"x":58.75,"y":0.006},{"s":4,"x":59.75,"y":0.006},{"s":4,"x":60.75,"y":0.006},{"s":4,"x":61.75,"y":0.006},{"s":4,"x":62.75,"y":0.006},{"s":4,"x":63.75,"y":0.008},{"s":4,"x":64.75,"y":0.015},{"s":4,"x":65.75,"y":0.047},{"s":4,"x":66.75,"y":0.105},{"s":4,"x":67.75,"y":0.227},{"s":4,"x":68.75,"y":0.385},{"s":4,"x":69.75,"y":0.59},{"s":4,"x":70.75,"y":0.75},{"s":4,"x":71.75,"y":0.755},{"s":4,"x":72.75,"y":0.658},{"s":4,"x":73.75,"y":0.447},{"s":4,"x":74.75,"y":0.243},{"s":4,"x":75.75,"y":0.092},{"s":4,"x":76.75,"y":0.02},{"s":4,"x":77.75,"y":0.008},{"s":4,"x":78.75,"y":0.006},{"s":4,"x":79.75,"y":0.006},{"s":4,"x":80.75,"y":0.006},{"s":4,"x":81.75,"y":0.006},{"s":4,"x":82.75,"y":0.006},{"s":4,"x":83.75,"y":0.006},{"s":4,"x":84.75,"y":0.006},{"s":4,"x":85.75,"y":0.006},{"s":4,"x":86.75,"y":0.006},{"s":4,"x":87.75,"y":0.006},{"s":4,"x":88.75,"y":0.006},{"s":4,"x":89.75,"y":0.006},{"s":4,"x":90.75,"y":0.006},{"s":4,"x":91.75,"y":0.006},{"s":4,"x":92.75,"y":0.006},{"s":4,"x":93.75,"y":0.006}
    ]
  },
  "vconcat": [
    {
      "width": 416,
      "height": 209,
      "layer": [
        {
          "data": {"name": "total01"},
          "mark": {"type": "line", "color": "#000", "strokeWidth": 1.8},
          "encoding": {
            "x": {"field": "x", "type": "quantitative", "title": null, "scale": {"domain": [20, 94.48], "nice": false, "zero": false}, "axis": {"labels": false, "ticks": false}},
            "y": {"field": "y", "type": "quantitative", "title": null, "scale": {"domain": [0, 1.045], "nice": false}, "axis": {"values": [0, 0.3, 0.6, 0.9], "format": ".1f", "tickSize": 8, "labelPadding": 4}}
          }
        },
        {
          "data": {"name": "layers01"},
          "mark": {"type": "line", "strokeWidth": 1},
          "encoding": {
            "x": {"field": "x", "type": "quantitative", "title": null},
            "y": {"field": "y", "type": "quantitative", "title": null},
            "color": {"field": "s", "type": "nominal", "scale": {"domain": [1, 2, 3, 4], "range": ["#ff0000", "#008000", "#ff00ff", "#0000ff"]}, "legend": null}
          }
        },
        {
          "data": {"name": "layers01"},
          "mark": {"type": "circle", "size": 52, "opacity": 1},
          "encoding": {
            "x": {"field": "x", "type": "quantitative", "title": null},
            "y": {"field": "y", "type": "quantitative", "title": null},
            "color": {"field": "s", "type": "nominal", "scale": {"domain": [1, 2, 3, 4], "range": ["#ff0000", "#008000", "#ff00ff", "#0000ff"]}, "legend": null}
          }
        },
        {
          "data": {"values": [{}]},
          "mark": {"type": "rule", "color": "#000", "strokeWidth": 1},
          "encoding": {"x": {"datum": 20}, "x2": {"datum": 94.48}, "y": {"datum": 1.045}}
        },
        {
          "data": {"values": [{}]},
          "mark": {"type": "rect", "color": "#000"},
          "encoding": {"x": {"datum": 47.34}, "x2": {"datum": 66.68}, "y": {"datum": 0.735}, "y2": {"datum": 0.945}}
        },
        {
          "data": {"values": [{}]},
          "mark": {"type": "rect", "fill": "#fff", "stroke": "#000", "strokeWidth": 1},
          "encoding": {"x": {"datum": 46.27}, "x2": {"datum": 65.61}, "y": {"datum": 0.77}, "y2": {"datum": 0.98}}
        },
        {
          "data": {"values": [{}]},
          "mark": {"type": "text", "text": "x", "fontSize": 24, "fontWeight": "bold", "fontStyle": "italic", "align": "left", "baseline": "alphabetic", "color": "#000"},
          "encoding": {"x": {"datum": 47.88}, "y": {"datum": 0.845}}
        },
        {
          "data": {"values": [{}]},
          "mark": {"type": "text", "text": "DMF", "fontSize": 12, "fontWeight": "bold", "align": "left", "baseline": "alphabetic", "color": "#000"},
          "encoding": {"x": {"datum": 50.21}, "y": {"datum": 0.805}}
        },
        {
          "data": {"values": [{}]},
          "mark": {"type": "text", "text": "= 0.1", "fontSize": 22, "fontWeight": "bold", "align": "left", "baseline": "alphabetic", "color": "#000"},
          "encoding": {"x": {"datum": 55.76}, "y": {"datum": 0.845}}
        },
        {
          "data": {"values": [{}]},
          "mark": {"type": "text", "text": "ρ", "fontSize": 22, "fontStyle": "italic", "angle": -90, "align": "left", "baseline": "alphabetic", "color": "#000"},
          "encoding": {"x": {"datum": 10.99}, "y": {"datum": 0.355}}
        },
        {
          "data": {"values": [{}]},
          "mark": {"type": "text", "text": "/ g cm", "fontSize": 22, "angle": -90, "align": "left", "baseline": "alphabetic", "color": "#000"},
          "encoding": {"x": {"datum": 10.99}, "y": {"datum": 0.42}}
        },
        {
          "data": {"values": [{}]},
          "mark": {"type": "text", "text": "-3", "fontSize": 14, "angle": -90, "align": "left", "baseline": "alphabetic", "color": "#000"},
          "encoding": {"x": {"datum": 9.56}, "y": {"datum": 0.695}}
        }
      ]
    },
    {
      "width": 416,
      "height": 209,
      "layer": [
        {
          "data": {"name": "total05"},
          "mark": {"type": "line", "color": "#000", "strokeWidth": 1.8},
          "encoding": {
            "x": {"field": "x", "type": "quantitative", "title": null, "scale": {"domain": [20, 94.48], "nice": false, "zero": false}, "axis": {"labels": false, "ticks": false}},
            "y": {"field": "y", "type": "quantitative", "title": null, "scale": {"domain": [0, 1.045], "nice": false}, "axis": {"values": [0, 0.3, 0.6, 0.9], "format": ".1f", "tickSize": 8, "labelPadding": 4}}
          }
        },
        {
          "data": {"name": "layers05"},
          "mark": {"type": "line", "strokeWidth": 1},
          "encoding": {
            "x": {"field": "x", "type": "quantitative", "title": null},
            "y": {"field": "y", "type": "quantitative", "title": null},
            "color": {"field": "s", "type": "nominal", "scale": {"domain": [1, 2, 3, 4], "range": ["#ff0000", "#008000", "#ff00ff", "#0000ff"]}, "legend": null}
          }
        },
        {
          "data": {"name": "layers05"},
          "mark": {"type": "circle", "size": 52, "opacity": 1},
          "encoding": {
            "x": {"field": "x", "type": "quantitative", "title": null},
            "y": {"field": "y", "type": "quantitative", "title": null},
            "color": {"field": "s", "type": "nominal", "scale": {"domain": [1, 2, 3, 4], "range": ["#ff0000", "#008000", "#ff00ff", "#0000ff"]}, "legend": null}
          }
        },
        {
          "data": {"values": [{}]},
          "mark": {"type": "rect", "color": "#000"},
          "encoding": {"x": {"datum": 22.81}, "x2": {"datum": 42.15}, "y": {"datum": 0.533}, "y2": {"datum": 0.743}}
        },
        {
          "data": {"values": [{}]},
          "mark": {"type": "rect", "fill": "#fff", "stroke": "#000", "strokeWidth": 1},
          "encoding": {"x": {"datum": 21.74}, "x2": {"datum": 41.08}, "y": {"datum": 0.568}, "y2": {"datum": 0.778}}
        },
        {
          "data": {"values": [{}]},
          "mark": {"type": "text", "text": "x", "fontSize": 24, "fontWeight": "bold", "fontStyle": "italic", "align": "left", "baseline": "alphabetic", "color": "#000"},
          "encoding": {"x": {"datum": 23.35}, "y": {"datum": 0.643}}
        },
        {
          "data": {"values": [{}]},
          "mark": {"type": "text", "text": "DMF", "fontSize": 12, "fontWeight": "bold", "align": "left", "baseline": "alphabetic", "color": "#000"},
          "encoding": {"x": {"datum": 25.68}, "y": {"datum": 0.603}}
        },
        {
          "data": {"values": [{}]},
          "mark": {"type": "text", "text": "= 0.5", "fontSize": 22, "fontWeight": "bold", "align": "left", "baseline": "alphabetic", "color": "#000"},
          "encoding": {"x": {"datum": 31.23}, "y": {"datum": 0.643}}
        },
        {
          "data": {"values": [{}]},
          "mark": {"type": "rect", "fill": "#fff", "stroke": "#666", "strokeWidth": 1.3},
          "encoding": {"x": {"datum": 62.37}, "x2": {"datum": 93.12}, "y": {"datum": 0.783}, "y2": {"datum": 1.5515}}
        },
        {
          "data": {"values": [{}]},
          "mark": {"type": "rule", "color": "#000", "strokeWidth": 2},
          "encoding": {"x": {"datum": 64.48}, "x2": {"datum": 72.41}, "y": {"datum": 1.408}}
        },
        {
          "data": {"values": [{}]},
          "mark": {"type": "rule", "color": "#ff0000", "strokeWidth": 1},
          "encoding": {"x": {"datum": 64.48}, "x2": {"datum": 72.41}, "y": {"datum": 1.289}}
        },
        {
          "data": {"values": [{}]},
          "mark": {"type": "rule", "color": "#008000", "strokeWidth": 1},
          "encoding": {"x": {"datum": 64.48}, "x2": {"datum": 72.41}, "y": {"datum": 1.17}}
        },
        {
          "data": {"values": [{}]},
          "mark": {"type": "rule", "color": "#ff00ff", "strokeWidth": 1},
          "encoding": {"x": {"datum": 64.48}, "x2": {"datum": 72.41}, "y": {"datum": 1.051}}
        },
        {
          "data": {"values": [{}]},
          "mark": {"type": "rule", "color": "#0000ff", "strokeWidth": 1},
          "encoding": {"x": {"datum": 64.48}, "x2": {"datum": 72.41}, "y": {"datum": 0.9315}}
        },
        {
          "data": {"values": [{}]},
          "mark": {"type": "circle", "color": "#ff0000", "size": 110, "opacity": 1},
          "encoding": {"x": {"datum": 68.66}, "y": {"datum": 1.289}}
        },
        {
          "data": {"values": [{}]},
          "mark": {"type": "circle", "color": "#008000", "size": 110, "opacity": 1},
          "encoding": {"x": {"datum": 68.66}, "y": {"datum": 1.17}}
        },
        {
          "data": {"values": [{}]},
          "mark": {"type": "circle", "color": "#ff00ff", "size": 110, "opacity": 1},
          "encoding": {"x": {"datum": 68.66}, "y": {"datum": 1.051}}
        },
        {
          "data": {"values": [{}]},
          "mark": {"type": "circle", "color": "#0000ff", "size": 110, "opacity": 1},
          "encoding": {"x": {"datum": 68.66}, "y": {"datum": 0.9315}}
        },
        {
          "data": {"values": [{}]},
          "mark": {"type": "text", "text": "entire system", "fontSize": 19, "align": "left", "baseline": "middle", "color": "#000"},
          "encoding": {"x": {"datum": 73.3}, "y": {"datum": 1.408}}
        },
        {
          "data": {"values": [{}]},
          "mark": {"type": "text", "text": "first layer", "fontSize": 19, "align": "left", "baseline": "middle", "color": "#000"},
          "encoding": {"x": {"datum": 73.3}, "y": {"datum": 1.289}}
        },
        {
          "data": {"values": [{}]},
          "mark": {"type": "text", "text": "second layer", "fontSize": 19, "align": "left", "baseline": "middle", "color": "#000"},
          "encoding": {"x": {"datum": 73.3}, "y": {"datum": 1.17}}
        },
        {
          "data": {"values": [{}]},
          "mark": {"type": "text", "text": "third layer", "fontSize": 19, "align": "left", "baseline": "middle", "color": "#000"},
          "encoding": {"x": {"datum": 73.3}, "y": {"datum": 1.051}}
        },
        {
          "data": {"values": [{}]},
          "mark": {"type": "text", "text": "fourth layer", "fontSize": 19, "align": "left", "baseline": "middle", "color": "#000"},
          "encoding": {"x": {"datum": 73.3}, "y": {"datum": 0.9315}}
        }
      ]
    },
    {
      "width": 416,
      "height": 209,
      "layer": [
        {
          "data": {"name": "total08"},
          "mark": {"type": "line", "color": "#000", "strokeWidth": 1.8},
          "encoding": {
            "x": {"field": "x", "type": "quantitative", "title": null, "scale": {"domain": [20, 94.48], "nice": false, "zero": false}, "axis": {"values": [20, 40, 60, 80], "format": "d", "tickSize": 9, "labelPadding": 4, "labelFlush": false}},
            "y": {"field": "y", "type": "quantitative", "title": null, "scale": {"domain": [0, 1.045], "nice": false}, "axis": {"values": [0, 0.3, 0.6, 0.9], "format": ".1f", "tickSize": 8, "labelPadding": 4}}
          }
        },
        {
          "data": {"name": "layers08"},
          "mark": {"type": "line", "strokeWidth": 1},
          "encoding": {
            "x": {"field": "x", "type": "quantitative", "title": null},
            "y": {"field": "y", "type": "quantitative", "title": null},
            "color": {"field": "s", "type": "nominal", "scale": {"domain": [1, 2, 3, 4], "range": ["#ff0000", "#008000", "#ff00ff", "#0000ff"]}, "legend": null}
          }
        },
        {
          "data": {"name": "layers08"},
          "mark": {"type": "circle", "size": 52, "opacity": 1},
          "encoding": {
            "x": {"field": "x", "type": "quantitative", "title": null},
            "y": {"field": "y", "type": "quantitative", "title": null},
            "color": {"field": "s", "type": "nominal", "scale": {"domain": [1, 2, 3, 4], "range": ["#ff0000", "#008000", "#ff00ff", "#0000ff"]}, "legend": null}
          }
        },
        {
          "data": {"values": [{}]},
          "mark": {"type": "rect", "color": "#000"},
          "encoding": {"x": {"datum": 31.53}, "x2": {"datum": 50.87}, "y": {"datum": 0.2885}, "y2": {"datum": 0.4985}}
        },
        {
          "data": {"values": [{}]},
          "mark": {"type": "rect", "fill": "#fff", "stroke": "#000", "strokeWidth": 1},
          "encoding": {"x": {"datum": 30.46}, "x2": {"datum": 49.8}, "y": {"datum": 0.3235}, "y2": {"datum": 0.5335}}
        },
        {
          "data": {"values": [{}]},
          "mark": {"type": "text", "text": "x", "fontSize": 24, "fontWeight": "bold", "fontStyle": "italic", "align": "left", "baseline": "alphabetic", "color": "#000"},
          "encoding": {"x": {"datum": 32.07}, "y": {"datum": 0.3985}}
        },
        {
          "data": {"values": [{}]},
          "mark": {"type": "text", "text": "DMF", "fontSize": 12, "fontWeight": "bold", "align": "left", "baseline": "alphabetic", "color": "#000"},
          "encoding": {"x": {"datum": 34.4}, "y": {"datum": 0.3585}}
        },
        {
          "data": {"values": [{}]},
          "mark": {"type": "text", "text": "= 0.8", "fontSize": 22, "fontWeight": "bold", "align": "left", "baseline": "alphabetic", "color": "#000"},
          "encoding": {"x": {"datum": 39.95}, "y": {"datum": 0.3985}}
        },
        {
          "data": {"values": [{}]},
          "mark": {"type": "text", "text": "X", "fontSize": 24, "fontStyle": "italic", "align": "left", "baseline": "alphabetic", "color": "#000"},
          "encoding": {"x": {"datum": 66.27}, "y": {"datum": -0.2315}}
        },
        {
          "data": {"values": [{}]},
          "mark": {"type": "text", "text": "/ Å", "fontSize": 24, "align": "left", "baseline": "alphabetic", "color": "#000"},
          "encoding": {"x": {"datum": 69.19}, "y": {"datum": -0.2315}}
        }
      ]
    }
  ]
}
